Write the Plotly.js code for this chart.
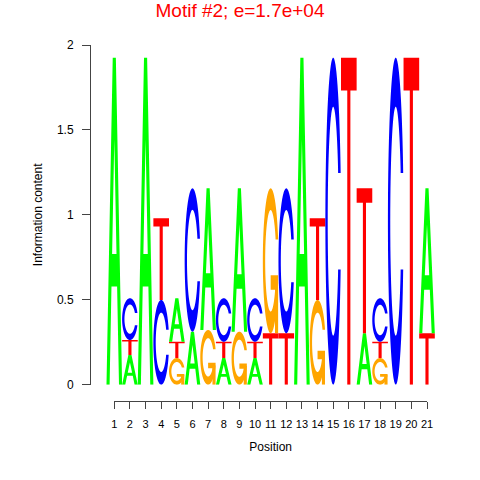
<!DOCTYPE html>
<html>
<head>
<meta charset="utf-8">
<script src="https://cdn.plot.ly/plotly-3.0.1.min.js"></script>
<style>
html,body{margin:0;padding:0;background:#ffffff;}
#chart{width:480px;height:480px;}
</style>
</head>
<body>
<div id="chart"></div>
<script>
// ---------------- data ----------------
const positions = [1,2,3,4,5,6,7,8,9,10,11,12,13,14,15,16,17,18,19,20,21];
const positionLabels = ["1","2","3","4","5","6","7","8","9","10","11","12","13","14","15","16","17","18","19","20","21"];
// letters of each column, from bottom to top of the stack
const stackLetters = [
  ["A"], ["A","T","C"], ["A"], ["C","T"], ["G","T","A"], ["A","C"], ["G","A"],
  ["A","T","C"], ["G","A"], ["A","T","C"], ["T","G"], ["T","C"], ["A"], ["G","T"],
  ["C"], ["T"], ["A","T"], ["G","T","C"], ["C"], ["T"], ["T","A"]
];
// information content (bits) of each letter, same order as stackLetters
const stackBits = [
  [1.925], [0.175,0.088,0.246], [1.925], [0.499,0.481], [0.157,0.096,0.256],
  [0.312,0.844], [0.322,0.834], [0.157,0.096,0.256], [0.312,0.844],
  [0.157,0.096,0.256], [0.303,0.853], [0.303,0.853], [1.925], [0.499,0.481],
  [1.925], [1.925], [0.303,0.853], [0.157,0.096,0.256], [1.925], [1.925], [0.303,0.853]
];
const yTickVals = [0, 0.5, 1, 1.5, 2];
const yTickText = ["0", "0.5", "1", "1.5", "2"];
const letterColors = {A: "#00FF00", C: "#0000FF", G: "#FFA500", T: "#FF0000"};
const titleText = "Motif #2; e=1.7e+04";

// ---------------- glyph outlines in a unit box ----------------
function linspace(a, b, n) {
  const out = [];
  for (let i = 0; i < n; i++) out.push(a + (b - a) * i / (n - 1));
  return out;
}
function ringC() {
  const n = 50;
  const a1 = linspace(0.3 + Math.PI / 2, Math.PI, n);
  const a2 = linspace(Math.PI, 1.5 * Math.PI, n);
  const xl1 = a1.map(a => 0.5 + 0.5 * Math.sin(a)), yl1 = a1.map(a => 0.5 + 0.5 * Math.cos(a));
  const xl2 = a2.map(a => 0.5 + 0.5 * Math.sin(a)), yl2 = a2.map(a => 0.5 + 0.5 * Math.cos(a));
  const xl = xl1.concat(xl2), yl = yl1.concat(yl2);
  const x = xl.concat(xl.slice().reverse());
  const y = yl.concat(yl.slice().reverse().map(v => 1 - v));
  const maxY1 = Math.max.apply(null, yl1);
  let xi1 = a1.map(a => 0.5 + 0.35 * Math.sin(a)), yi1 = a1.map(a => 0.5 + 0.35 * Math.cos(a));
  const keep = yi1.map(v => v <= maxY1);
  xi1 = xi1.filter((v, i) => keep[i]); yi1 = yi1.filter((v, i) => keep[i]);
  yi1[0] = maxY1;
  const xi2 = a2.map(a => 0.5 + 0.35 * Math.sin(a)), yi2 = a2.map(a => 0.5 + 0.35 * Math.cos(a));
  const xi = xi1.concat(xi2), yi = yi1.concat(yi2);
  const x1 = xi.concat(xi.slice().reverse());
  const y1 = yi.concat(yi.slice().reverse().map(v => 1 - v));
  const X = x.concat(x1.slice().reverse()), Y = y.concat(y1.slice().reverse());
  return {pts: X.map((v, i) => [v, Y[i]]), r1: Math.max.apply(null, xl1)};
}
const cRing = ringC();
const GLYPHS = {
  A: [{polys: [
        [[0,0],[0.4,1],[0.6,1],[1,0],[0.8,0],[0.68,0.3],[0.32,0.3],[0.2,0]],
        [[0.36,0.4],[0.5,0.75],[0.64,0.4]]
      ], rule: "evenodd"}],
  T: [{polys: [[[0,1],[1,1],[1,0.9],[0.6,0.9],[0.6,0],[0.4,0],[0.4,0.9],[0,0.9]]], rule: "nonzero"}],
  C: [{polys: [cRing.pts], rule: "nonzero"}],
  G: [{polys: [cRing.pts], rule: "nonzero"},
      {polys: [[[cRing.r1,0.4],[0.5,0.4],[0.5,0.3],[cRing.r1-0.2,0.3],[cRing.r1-0.2,0],[cRing.r1,0]]], rule: "nonzero"}]
};

// ---------------- build shapes from data ----------------
const shapes = [];
const hoverX = [], hoverY = [], hoverT = [];
positions.forEach((pos, i) => {
  let base = 0;
  const parts = [];
  stackLetters[i].forEach((letter, j) => {
    const h = stackBits[i][j];
    const x0 = pos - 0.5;
    GLYPHS[letter].forEach(g => {
      const path = g.polys.map(poly =>
        "M" + poly.map(p => (x0 + p[0]).toFixed(4) + "," + (base + p[1] * h).toFixed(4)).join("L") + "Z"
      ).join(" ");
      shapes.push({
        type: "path", xref: "x", yref: "y", path: path,
        fillcolor: letterColors[letter], fillrule: g.rule,
        line: {width: 0}, layer: "above"
      });
    });
    parts.push(letter + ": " + h.toFixed(3));
    base += h;
  });
  hoverX.push(pos); hoverY.push(base); hoverT.push("Position " + pos + "<br>" + parts.join("<br>"));
});

const traces = [
  {type: "scatter", mode: "markers", x: hoverX, y: hoverY, xaxis: "x", yaxis: "y",
   marker: {size: 10, opacity: 0}, hovertext: hoverT, hoverinfo: "text", showlegend: false},
  {type: "scatter", mode: "markers", x: positions, y: positions.map(() => 0), xaxis: "x2", yaxis: "y",
   marker: {size: 1, opacity: 0}, hoverinfo: "skip", showlegend: false}
];

const W = 480, H = 480;
const layout = {
  width: W, height: H,
  margin: {l: 0, r: 0, t: 0, b: 0, pad: 0},
  paper_bgcolor: "#ffffff", plot_bgcolor: "rgba(0,0,0,0)",
  font: {family: "Liberation Sans, Arial, Helvetica, sans-serif", color: "#000000", size: 12},
  showlegend: false,
  title: {text: titleText, font: {size: 19, color: "#FF0000"},
          x: 0.5, xref: "container", xanchor: "center",
          y: 1 - 4 / H, yref: "container", yanchor: "top"},
  xaxis: {domain: [90 / W, 456 / W], range: [-0.554, 22.855], visible: false, fixedrange: true},
  xaxis2: {domain: [114.3 / W, 427 / W], range: [1, 21], anchor: "free", position: 1 - 401 / H,
           showline: true, linecolor: "#444444", linewidth: 1,
           ticks: "outside", ticklen: 7, tickwidth: 1, tickcolor: "#444444",
           tickmode: "array", tickvals: positions, ticktext: positionLabels,
           tickfont: {size: 11}, ticklabelstandoff: 6,
           showgrid: false, zeroline: false, fixedrange: true,
           title: {text: "Position", font: {size: 12}, standoff: 13}},
  yaxis: {domain: [1 - 384.7 / H, 1 - 45 / H], range: [0, 2], anchor: "free", position: 90 / W,
          showline: true, linecolor: "#444444", linewidth: 1,
          ticks: "outside", ticklen: 8, tickwidth: 1, tickcolor: "#444444",
          tickmode: "array", tickvals: yTickVals, ticktext: yTickText,
          tickfont: {size: 12}, ticklabelstandoff: 6,
          showgrid: false, zeroline: false, fixedrange: true,
          title: {text: "Information content", font: {size: 12}, standoff: 10}},
  shapes: shapes
};

Plotly.newPlot("chart", traces, layout, {displayModeBar: false, staticPlot: false});
</script>
</body>
</html>
